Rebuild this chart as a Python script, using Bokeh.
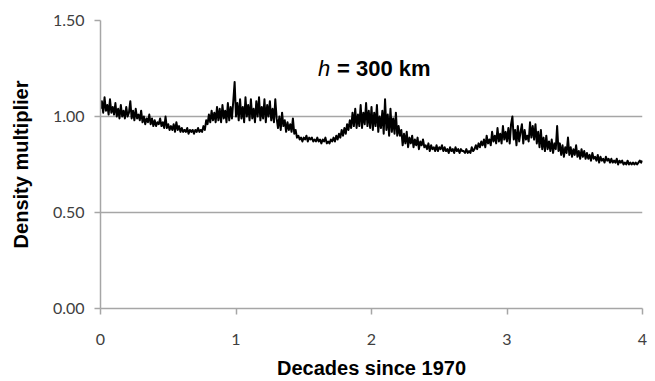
from bokeh.plotting import figure
from bokeh.models import Range1d, FixedTicker, Label, ColumnDataSource
from bokeh.embed import file_html
from bokeh.resources import INLINE

# density multiplier, one value every 0.01 decade
x_step = 0.01
density = [
    1.04, 1.08, 1.02, 1.10, 1.03, 1.06, 1.01, 1.09, 1.02, 1.05, 1.01, 1.07, 1.00, 1.04, 0.99, 1.06, 1.00, 1.03, 0.99, 1.05,
    1.00, 1.02, 1.08, 0.99, 1.03, 0.98, 1.04, 0.99, 1.01, 0.98, 1.03, 0.97, 1.00, 0.96, 0.99, 0.97, 1.01, 0.96, 0.99, 0.95,
    0.98, 0.95, 0.97, 0.96, 0.99, 0.95, 0.97, 0.94, 1.00, 0.94, 0.96, 0.93, 0.95, 0.93, 0.96, 0.92, 0.97, 0.93, 0.95, 0.92,
    0.94, 0.92, 0.93, 0.92, 0.94, 0.91, 0.93, 0.92, 0.93, 0.91, 0.93, 0.92, 0.94, 0.92, 0.93, 0.92, 0.95, 0.93, 0.98, 0.96,
    1.01, 0.97, 1.03, 0.98, 1.02, 0.97, 1.05, 0.98, 1.04, 0.97, 1.06, 0.99, 1.03, 0.97, 1.07, 0.98, 1.05, 0.99, 1.08, 1.18,
    1.00, 1.07, 0.98, 1.09, 0.99, 1.05, 0.97, 1.10, 1.00, 1.06, 0.98, 1.09, 0.99, 1.04, 0.97, 1.08, 1.00, 1.10, 0.98, 1.05,
    0.99, 1.09, 0.97, 1.06, 1.00, 1.08, 0.98, 1.04, 0.97, 1.09, 0.99, 0.94, 1.00, 0.93, 1.02, 0.95, 0.98, 0.92, 0.97, 0.93,
    0.96, 0.92, 0.99, 0.91, 0.93, 0.89, 0.90, 0.88, 0.89, 0.87, 0.89, 0.88, 0.90, 0.87, 0.89, 0.88, 0.89, 0.87, 0.88, 0.87,
    0.89, 0.87, 0.88, 0.86, 0.88, 0.87, 0.89, 0.86, 0.87, 0.86, 0.88, 0.87, 0.89, 0.87, 0.90, 0.88, 0.91, 0.89, 0.93, 0.90,
    0.94, 0.91, 0.96, 0.93, 0.98, 0.94, 1.02, 0.95, 1.04, 0.94, 1.01, 0.95, 1.06, 0.94, 1.02, 0.96, 1.07, 0.95, 1.03, 0.94,
    1.05, 0.93, 1.02, 0.95, 1.06, 0.92, 1.00, 0.94, 1.03, 0.91, 1.09, 0.93, 1.01, 0.90, 1.04, 0.92, 0.99, 0.91, 1.02, 0.90,
    0.95, 0.90, 0.93, 0.85, 0.91, 0.86, 0.92, 0.84, 0.89, 0.86, 0.90, 0.84, 0.88, 0.85, 0.89, 0.83, 0.87, 0.85, 0.88, 0.84,
    0.85, 0.83, 0.86, 0.82, 0.85, 0.83, 0.84, 0.82, 0.85, 0.82, 0.84, 0.83, 0.85, 0.82, 0.84, 0.82, 0.83, 0.81, 0.84, 0.82,
    0.83, 0.81, 0.84, 0.82, 0.83, 0.81, 0.83, 0.82, 0.82, 0.81, 0.83, 0.81, 0.82, 0.81, 0.84, 0.82, 0.83, 0.85, 0.83, 0.86,
    0.84, 0.87, 0.85, 0.88, 0.84, 0.90, 0.86, 0.88, 0.85, 0.92, 0.87, 0.90, 0.86, 0.94, 0.87, 0.91, 0.86, 0.95, 0.88, 0.92,
    0.87, 0.94, 0.86, 0.96, 1.00, 0.88, 0.93, 0.85, 0.95, 0.87, 0.92, 0.96, 0.86, 0.93, 0.88, 0.90, 0.87, 0.97, 0.89, 0.95,
    0.88, 0.96, 0.86, 0.92, 0.84, 0.93, 0.83, 0.89, 0.82, 0.90, 0.83, 0.87, 0.82, 0.88, 0.81, 0.86, 0.83, 0.95, 0.82, 0.86,
    0.80, 0.85, 0.79, 0.84, 0.81, 0.89, 0.80, 0.84, 0.79, 0.83, 0.80, 0.85, 0.79, 0.82, 0.78, 0.83, 0.79, 0.82, 0.78, 0.81,
    0.78, 0.80, 0.77, 0.81, 0.78, 0.79, 0.77, 0.80, 0.76, 0.79, 0.77, 0.78, 0.76, 0.79, 0.77, 0.78, 0.76, 0.78, 0.76, 0.77,
    0.76, 0.78, 0.75, 0.77, 0.76, 0.77, 0.75, 0.76, 0.75, 0.77, 0.75, 0.76, 0.75, 0.76, 0.75, 0.76, 0.75, 0.76, 0.77, 0.76,
    0.77,
]
decades = [round(i * x_step, 2) for i in range(len(density))]

y_ticks = [0.0, 0.5, 1.0, 1.5]
y_tick_labels = ["0.00", "0.50", "1.00", "1.50"]
x_ticks = [0, 1, 2, 3, 4]

src = ColumnDataSource(dict(x=decades, y=density))

p = figure(width=655, height=381, output_backend="svg", toolbar_location=None,
           x_range=Range1d(0, 4), y_range=Range1d(0, 1.5),
           min_border_left=100, min_border_right=13, min_border_top=20, min_border_bottom=68)
p.outline_line_color = None
p.background_fill_color = "white"
p.border_fill_color = "white"

p.line("x", "y", source=src, line_color="black", line_width=2.0, line_join="round")

grid_col = "#a6a6a6"
p.xgrid.visible = False
p.ygrid.ticker = FixedTicker(ticks=y_ticks)
p.ygrid.grid_line_color = grid_col
p.ygrid.grid_line_width = 1.5

p.yaxis.ticker = FixedTicker(ticks=y_ticks)
p.yaxis.major_label_overrides = dict(zip(y_ticks, y_tick_labels))
p.xaxis.ticker = FixedTicker(ticks=x_ticks)

for ax in (p.xaxis[0], p.yaxis[0]):
    ax.axis_line_color = grid_col
    ax.axis_line_width = 1.5
    ax.major_tick_line_color = grid_col
    ax.major_tick_line_width = 1.5
    ax.major_tick_out = 6
    ax.major_tick_in = 0
    ax.minor_tick_line_color = None
    ax.major_label_text_font = "Lato"
    ax.major_label_text_font_size = "16px"
    ax.major_label_text_color = "#404040"
    ax.axis_label_text_font = "Liberation Sans"
    ax.axis_label_text_font_style = "bold"
    ax.axis_label_text_font_size = "20px"
    ax.axis_label_text_color = "black"

p.yaxis.axis_label = "Density multiplier"
p.yaxis.major_label_standoff = 10
p.yaxis.axis_label_standoff = 18
p.xaxis.axis_label = "Decades since 1970"
p.xaxis.major_label_standoff = 19
p.xaxis.axis_label_standoff = 9

p.add_layout(Label(x=1.605, y=1.25, text="h", text_font="Liberation Sans",
                   text_font_style="italic", text_font_size="22px", text_color="black",
                   text_baseline="middle"))
p.add_layout(Label(x=1.745, y=1.25, text="= 300 km", text_font="Liberation Sans",
                   text_font_style="bold", text_font_size="22px", text_color="black",
                   text_baseline="middle"))

open("out.html", "w").write(file_html(p, INLINE))
